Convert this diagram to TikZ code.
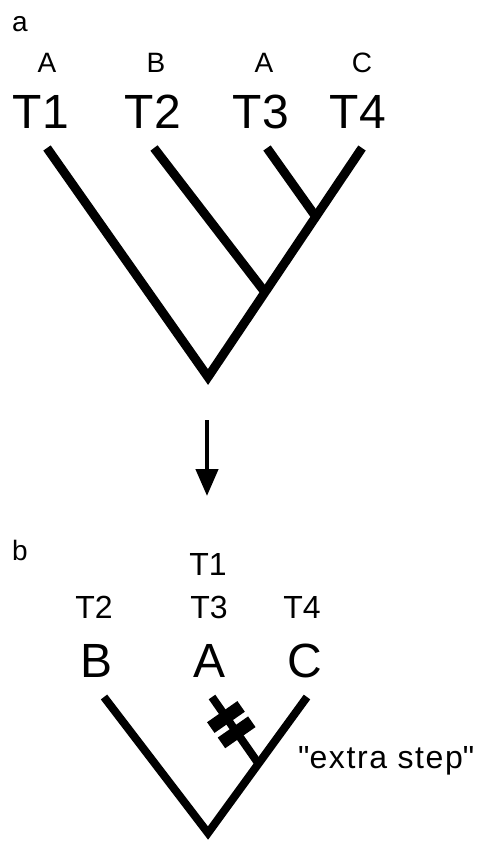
\documentclass[tikz,border=0pt]{standalone}
\usepackage{fontspec}
\setmainfont{Liberation Sans}
\newfontfamily\spacedfont{Liberation Sans}[LetterSpace=5]
\usetikzlibrary{arrows.meta,calc}
\newcommand{\sq}{\XeTeXglyph\numexpr\XeTeXcharglyph"22\relax}
\tikzset{
  taxon/.style={font=\fontsize{48}{50}\selectfont,inner sep=0pt,anchor=base},
  state/.style={font=\fontsize{28}{30}\selectfont,inner sep=0pt,anchor=base},
  tname/.style={font=\fontsize{32}{34}\selectfont,inner sep=0pt,anchor=base},
  panel/.style={font=\fontsize{28}{30}\selectfont,inner sep=0pt,anchor=base west},
  branch/.style={line width=9pt,line cap=butt,line join=miter},
  hatch/.style={fill=black,sloped,minimum width=13pt,minimum height=37pt,inner sep=0pt},
  arr/.style={-{Triangle[length=27pt,width=22pt]},line width=4.5pt},
}

\begin{document}
\begin{tikzpicture}[x=1pt,y=-1pt]
\useasboundingbox (0,0) rectangle (489,843);

% panel a: four taxa with their states
\node[panel] (pa) at (12,32) {a};
\node[state] (s1) at (47,73) {A};
\node[state] (s2) at (156,73) {B};
\node[state] (s3) at (264,73) {A};
\node[state] (s4) at (362,73) {C};
\node[taxon] (t1) at (41,128) {T1};
\node[taxon] (t2) at (153,128) {T2};
\node[taxon] (t3) at (261,128) {T3};
\node[taxon] (t4) at (358,128) {T4};

\coordinate (root) at (208,377);
\coordinate (t1top) at (47,148);
\coordinate (t2top) at (154,148);
\coordinate (t3top) at (267,148);
\coordinate (t4top) at (362,148);
\coordinate (j1) at ($(root)!0.37!(t4top)$);
\coordinate (j2) at ($(root)!0.70!(t4top)$);
\draw[branch] (t1top) -- (root) -- (t4top);
\draw[branch] (t2top) -- (j1);
\draw[branch] (t3top) -- (j2);

% collapse
\coordinate (atop) at (207,420);
\coordinate (atip) at (207,496);
\draw[arr] (atop) -- (atip);

% panel b: states as leaves
\node[panel] (pb) at (12,560) {b};
\node[tname] (n1) at (208,575) {T1};
\node[tname] (n2) at (94,618) {T2};
\node[tname] (n3) at (209,618) {T3};
\node[tname] (n4) at (302,618) {T4};
\node[taxon] (lb) at (97,677) {B};
\node[taxon] (la) at (210,677) {A};
\node[taxon] (lc) at (305,677) {C};

\coordinate (rootb) at (208,833);
\coordinate (btop) at (104,697);
\coordinate (atopb) at (212,697);
\coordinate (ctop) at (307,697);
\coordinate (jb) at ($(rootb)!0.51!(ctop)$);
\draw[branch,line width=8pt] (btop) -- (rootb) -- (ctop);
\draw[branch,line width=8pt] (atopb) -- (jb)
  node[hatch,pos=0.30] (h1) {}
  node[hatch,pos=0.53] (h2) {};
\node[tname,anchor=base west] (xs) at (298,768) {\spacedfont\sq extra step\sq};
\end{tikzpicture}
\end{document}
